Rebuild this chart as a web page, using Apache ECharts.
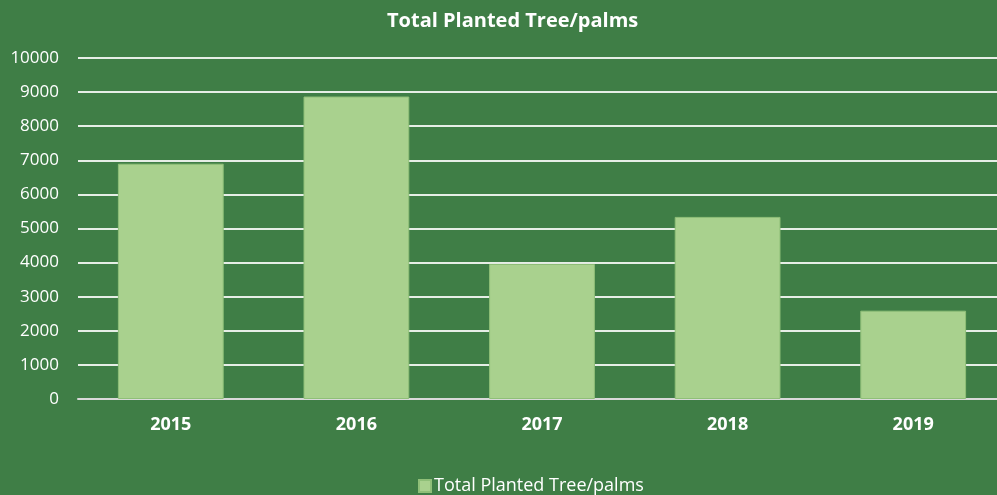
<!DOCTYPE html>
<html>
<head>
<meta charset="utf-8">
<script src="https://cdn.jsdelivr.net/npm/echarts@6/dist/echarts.min.js"></script>
<style>
  html, body { margin: 0; padding: 0; background: #3f7e46; overflow: hidden; }
  /* canvas is a little wider than the window so the last column is cut at the edge */
  #chart { width: 1006px; height: 495px; }
</style>
</head>
<body>
<div id="chart"></div>
<script>
// Planted trees/palms per year
const years = ['2015', '2016', '2017', '2018', '2019'];
const plantedTotals = [6900, 8870, 3960, 5340, 2590];
const seriesName = 'Total Planted Tree/palms';
const chartTitle = 'Total Planted Tree/palms';

const fontFamily = '"Open Sans", "Noto Sans", sans-serif';
const chart = echarts.init(document.getElementById('chart'));
chart.setOption({
  backgroundColor: '#3f7e46',
  animation: false,
  title: {
    text: chartTitle,
    left: 387,
    top: 11,
    padding: 0,
    textStyle: { color: '#ffffff', fontSize: 20, fontWeight: 'bold', fontFamily: fontFamily }
  },
  legend: {
    data: [seriesName],
    left: 418,
    top: 477,
    padding: 0,
    icon: 'rect',
    itemWidth: 12,
    itemHeight: 12,
    textStyle: { color: '#ffffff', fontSize: 18, fontFamily: fontFamily, padding: [0, 0, 0, -2] }
  },
  grid: { left: 78, right: 0, top: 58, bottom: 96 },
  xAxis: {
    type: 'category',
    data: years,
    axisTick: { show: false },
    axisLine: { lineStyle: { color: '#d9d9d9', width: 2 } },
    axisLabel: { color: '#ffffff', fontSize: 18, fontWeight: 'bold', fontFamily: fontFamily, margin: 17 }
  },
  yAxis: {
    type: 'value',
    min: 0,
    max: 10000,
    interval: 1000,
    axisLine: { show: false },
    axisTick: { show: false },
    axisLabel: {
      color: '#ffffff',
      fontSize: 17,
      fontFamily: fontFamily,
      margin: 19,
      formatter: (v) => String(v)
    },
    splitLine: { lineStyle: { color: '#e6eee6', width: 2 } }
  },
  series: [{
    name: seriesName,
    type: 'bar',
    data: plantedTotals,
    barCategoryGap: '43%',
    itemStyle: { color: '#a9d18e', borderColor: '#8fbf78', borderWidth: 1 }
  }]
});
</script>
</body>
</html>
